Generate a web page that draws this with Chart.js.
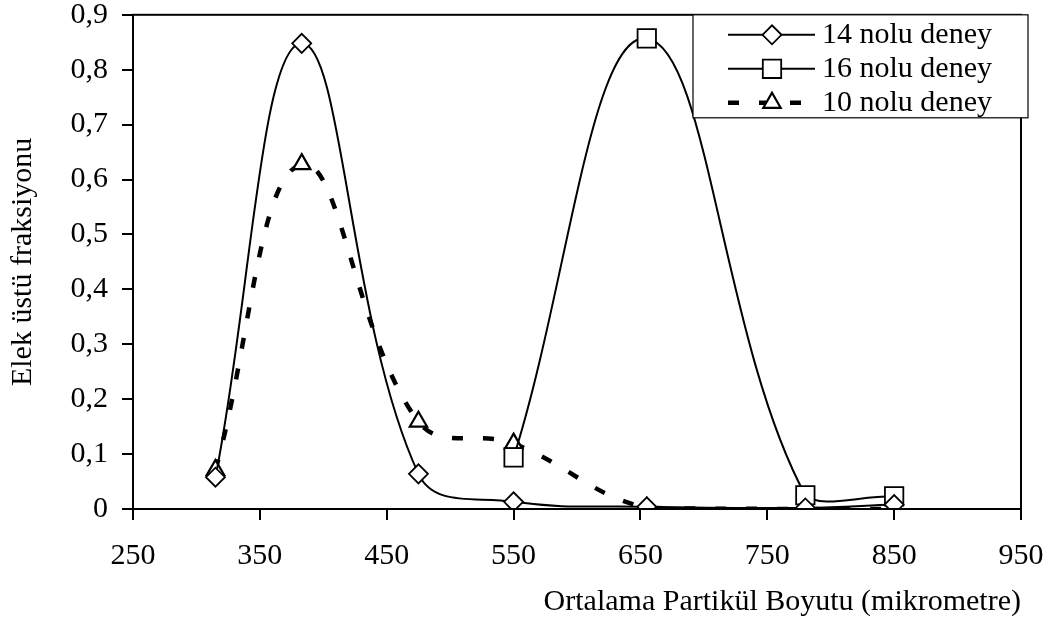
<!DOCTYPE html>
<html><head><meta charset="utf-8">
<script src="https://cdn.jsdelivr.net/npm/chart.js@4/dist/chart.umd.min.js"></script>
<style>html,body{margin:0;padding:0;background:#fff;} #wrap{width:1053px;height:625px;}</style>
</head><body><div id="wrap"><canvas id="c" width="1053" height="625"></canvas></div>
<script>
const particleSizes = [315, 383, 475, 550, 655, 780, 850];
const run14 = [0.058, 0.848, 0.064, 0.013, 0.004, 0.002, 0.008];
const run16 = [null, null, null, 0.094, 0.857, 0.025, 0.023];
const run10 = [0.071, 0.628, 0.159, 0.119, 0.002, 0.0, 0.0];
const seriesLabels = ['14 nolu deney', '16 nolu deney', '10 nolu deney'];
const xTickLabels = ['250','350','450','550','650','750','850','950'];
const yTickLabels = ['0','0,1','0,2','0,3','0,4','0,5','0,6','0,7','0,8','0,9'];
const xTitle = 'Ortalama Partikül Boyutu (mikrometre)';
const yTitle = 'Elek üstü fraksiyonu';

const FONT = 'Liberation Serif';
const toPoints = (vals) => particleSizes.map((x, i) => ({x: x, y: vals[i]}));

const framePlugin = {
  id: 'frame',
  afterDraw(chart) {
    const ctx = chart.ctx, a = chart.chartArea;
    ctx.save();
    ctx.strokeStyle = '#000';
    ctx.lineWidth = 2;
    ctx.setLineDash([]);
    ctx.strokeRect(a.left, a.top, a.right - a.left, a.bottom - a.top);
    ctx.restore();
  }
};

const legendPlugin = {
  id: 'boxLegend',
  afterDraw(chart) {
    const ctx = chart.ctx, a = chart.chartArea;
    const left = a.left + 560, top = a.top, right = a.right + 7, bottom = a.top + 103;
    ctx.save();
    ctx.fillStyle = '#fff';
    ctx.fillRect(left, top, right - left, bottom - top);
    ctx.strokeStyle = '#000';
    ctx.lineWidth = 1.2;
    ctx.setLineDash([]);
    ctx.strokeRect(left, top, right - left, bottom - top);
    chart.data.datasets.forEach((ds, i) => {
      const y = top + 20 + i * 34;
      ctx.strokeStyle = '#000';
      ctx.lineWidth = ds.borderWidth;
      ctx.lineCap = 'butt';
      ctx.setLineDash(ds.borderDash || []);
      ctx.beginPath();
      ctx.moveTo(left + 35, y);
      ctx.lineTo(left + 122, y);
      ctx.stroke();
      ctx.setLineDash([]);
      ctx.fillStyle = '#fff';
      ctx.strokeStyle = '#000';
      ctx.lineWidth = ds.pointBorderWidth;
      Chart.helpers.drawPoint(ctx, {pointStyle: ds.pointStyle, radius: ds.pointRadius, borderWidth: ds.pointBorderWidth, rotation: 0}, left + 79, y);
      ctx.fillStyle = '#000';
      ctx.font = '30px "' + FONT + '"';
      ctx.textAlign = 'left';
      ctx.textBaseline = 'middle';
      ctx.fillText(ds.label, left + 129, y);
    });
    ctx.restore();
  }
};

const tickFont = {family: FONT, size: 30};

new Chart(document.getElementById('c'), {
  type: 'line',
  data: {
    datasets: [
      {label: seriesLabels[0], data: toPoints(run14), borderColor: '#000', borderWidth: 2,
       pointStyle: 'rectRot', pointRadius: 9.5, pointBorderWidth: 1.8, pointBackgroundColor: '#fff', pointBorderColor: '#000', tension: 0.4},
      {label: seriesLabels[1], data: toPoints(run16), borderColor: '#000', borderWidth: 2,
       pointStyle: 'rect', pointRadius: 13, pointBorderWidth: 1.8, pointBackgroundColor: '#fff', pointBorderColor: '#000', tension: 0.4},
      {label: seriesLabels[2], data: toPoints(run10), borderColor: '#000', borderWidth: 4.5, borderDash: [11, 20],
       pointStyle: 'triangle', pointRadius: 10, pointBorderWidth: 2.2, pointBackgroundColor: '#fff', pointBorderColor: '#000', tension: 0.4}
    ]
  },
  options: {
    responsive: false,
    devicePixelRatio: 1,
    animation: false,
    layout: {padding: {top: 14, right: 32, left: 0, bottom: 0}},
    plugins: {legend: {display: false}, tooltip: {enabled: false}},
    scales: {
      x: {
        type: 'linear', position: 'bottom', min: 250, max: 950,
        afterBuildTicks: (s) => { s.ticks = xTickLabels.map(t => ({value: Number(t)})); },
        afterFit: (s) => { s.height = 116; s.paddingLeft = 0; s.paddingRight = 0; },
        grid: {drawOnChartArea: false, drawTicks: true, tickLength: 11, color: '#000', lineWidth: 2},
        border: {display: true, color: '#000', width: 2},
        ticks: {font: tickFont, color: '#000', padding: 18, maxRotation: 0, autoSkip: false,
                callback: (v, i) => xTickLabels[i]},
        title: {display: true, text: xTitle, align: 'end', color: '#000', font: tickFont, padding: {top: 0, bottom: 5}}
      },
      y: {
        type: 'linear', position: 'left', min: 0, max: 0.9,
        afterBuildTicks: (s) => { s.ticks = yTickLabels.map(t => ({value: parseFloat(t.replace(',', '.'))})); },
        afterFit: (s) => { s.width = 133; s.paddingTop = 0; s.paddingBottom = 0; },
        grid: {drawOnChartArea: false, drawTicks: true, tickLength: 11, color: '#000', lineWidth: 2},
        border: {display: true, color: '#000', width: 2},
        ticks: {font: tickFont, color: '#000', padding: 14, autoSkip: false,
                callback: (v, i) => yTickLabels[i]},
        title: {display: true, text: yTitle, color: '#000', font: tickFont, padding: {top: 5, bottom: 0}}
      }
    }
  },
  plugins: [framePlugin, legendPlugin]
});
</script>
</body></html>
